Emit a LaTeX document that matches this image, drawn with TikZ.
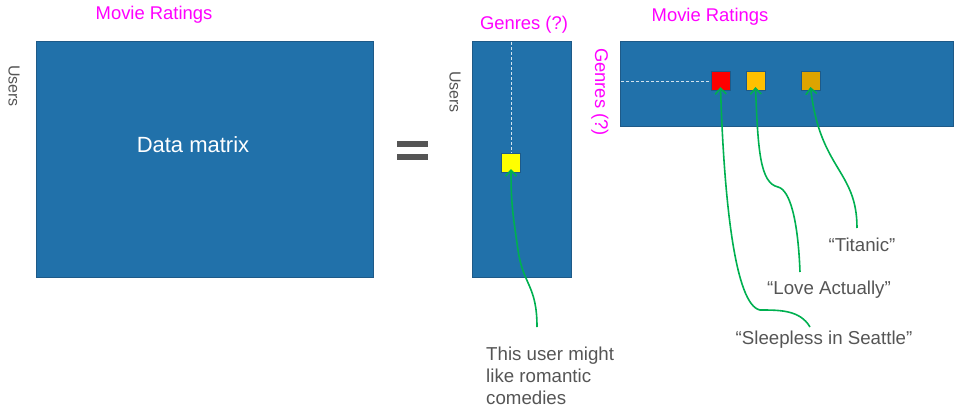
\documentclass[tikz,border=0pt]{standalone}
\usepackage{fontspec}
\setmainfont{Liberation Sans}
\usetikzlibrary{arrows.meta}
\definecolor{matblue}{HTML}{2171AA}
\definecolor{matedge}{HTML}{1E5A88}
\definecolor{lblgray}{HTML}{555555}
\definecolor{hint}{HTML}{FF00FF}
\definecolor{pointer}{HTML}{00B050}
\definecolor{cellred}{HTML}{FF0000}
\definecolor{cellorange}{HTML}{FFC000}
\definecolor{celldark}{HTML}{DDA400}
\definecolor{cellyellow}{HTML}{FFFF00}
\begin{document}
\begin{tikzpicture}[x=1pt,y=-1pt,
  matrixbox/.style={draw=matedge,fill=matblue,line width=0.8pt},
  cell/.style={draw=matedge,line width=1pt,minimum size=19pt,inner sep=0pt},
  axislbl/.style={text=hint,font=\fontsize{18.4}{22}\selectfont,inner sep=0pt},
  sidelbl/.style={text=lblgray,font=\fontsize{16}{18}\selectfont,inner sep=0pt},
  note/.style={text=lblgray,font=\fontsize{18.7}{22}\selectfont,inner sep=0pt},
  guide/.style={draw=white!80!matblue,dashed,dash pattern=on 3pt off 2pt,line width=0.8pt},
  pointerline/.style={draw=pointer,line width=1.6pt,-{Straight Barb[length=6pt,width=11pt,line width=1.6pt]}}
]
\useasboundingbox (0,0) rectangle (956,410);

% ratings matrix
\draw[matrixbox] (36,41) rectangle (373,277);
\node[axislbl] (mr1) at (154,15) {Movie Ratings};
\node[sidelbl,rotate=-90] (u1) at (14,86) {Users};
\node[text=white,font=\fontsize{22}{26}\selectfont,inner sep=0pt] (dm) at (193,145) {Data matrix};

% equals sign
\fill[lblgray] (397,141) rectangle (428,147);
\fill[lblgray] (397,154) rectangle (428,160);

% user factor matrix
\draw[matrixbox] (472,41) rectangle (571,277);
\node[axislbl] (g1) at (524,25) {Genres (?)};
\node[sidelbl,rotate=-90] (u2) at (455,92) {Users};
\node[cell,fill=cellyellow] (cy) at (511,163) {};
\draw[guide] (511,42) -- (cy.north);

% item factor matrix
\draw[matrixbox] (620,41) rectangle (953,126);
\node[axislbl] (mr2) at (710,17) {Movie Ratings};
\node[axislbl,rotate=-90] (g2) at (600,92) {Genres (?)};
\node[cell,fill=cellred] (cr) at (720.5,81) {};
\node[cell,fill=cellorange] (co) at (755.5,81) {};
\node[cell,fill=celldark] (cd) at (810.5,81) {};
\draw[guide] (621,81) -- (cr.west);

% annotations
\node[note,anchor=north west,align=left] (nuser) at (486,347) {This user might\\like romantic\\comedies};
\node[note] (ntit) at (862,245) {“Titanic”};
\node[note] (nlove) at (829,290) {“Love Actually”};
\node[note] (nsleep) at (824,340) {“Sleepless in Seattle”};

\coordinate (puser) at (537,327);
\coordinate (ptit) at (857,228);
\coordinate (plove) at (800,272);
\coordinate (psleep) at (810,327);

\draw[pointerline] (puser) .. controls (537,285) and (523,285) .. (518,250)
  .. controls (513,215) and (511,205) .. ([yshift=4pt]cy.south);
\draw[pointerline] (ptit) .. controls (857,170) and (820,170) .. ([yshift=4pt]cd.south);
\draw[pointerline] (plove) .. controls (798,220) and (790,190) .. (778,187)
  .. controls (760,183) and (758,150) .. ([yshift=4pt]co.south);
\draw[pointerline] (psleep) .. controls (800,310) and (780,310) .. (760,310)
  .. controls (735,305) and (724,200) .. ([yshift=4pt]cr.south);
\end{tikzpicture}
\end{document}
